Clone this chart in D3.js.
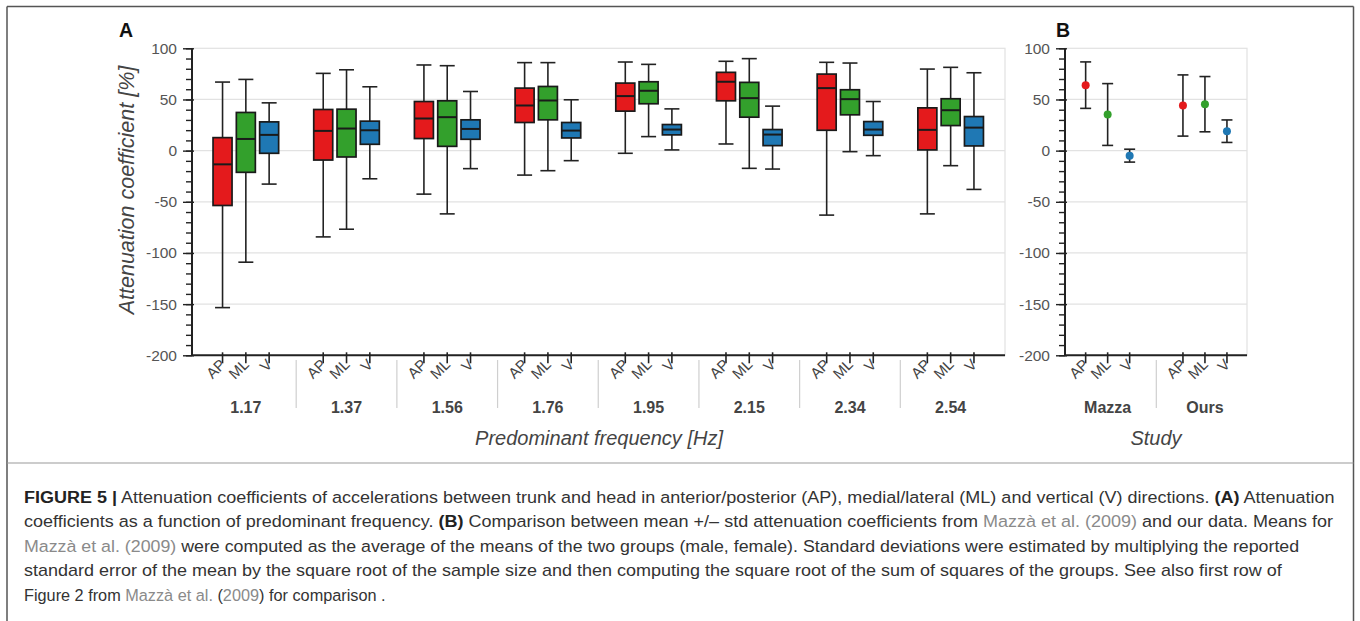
<!DOCTYPE html>
<html><head><meta charset="utf-8">
<script src="https://cdn.jsdelivr.net/npm/d3@7"></script>
<style>
html,body{margin:0;padding:0;background:#fff;}
svg{display:block;font-family:Arial,"Liberation Sans",sans-serif;}
</style></head>
<body>
<svg id="chart" width="1360" height="621"></svg>
<script>
// ---------- DATA ----------
const freqs = ["1.17","1.37","1.56","1.76","1.95","2.15","2.34","2.54"];
const dirs = ["AP","ML","V"];
const yTicksMajor = [100,50,0,-50,-100,-150,-200];

const apMin = [-153.4,-84.3,-42.5,-23.9,-2.6,6.5,-63,-61.8];
const apQ1  = [-53.6,-9.2,11.8,27.5,38.6,48.7,19.9,0.7];
const apMed = [-13.4,19.3,31.4,44.1,53.3,67.3,61.1,20.3];
const apQ3  = [12.7,40.2,48,61.1,66,76.5,74.8,41.8];
const apMax = [67,75.5,83.7,86,86.6,87.3,86.3,79.7];

const mlMin = [-109,-76.8,-61.8,-19.6,13.7,-17.3,-1,-14.7];
const mlQ1  = [-21.2,-6.2,4.2,30.1,45.8,32.7,35,24.5];
const mlMed = [11.4,21.6,32.7,49,58.5,51.3,50.3,39.5];
const mlQ3  = [37.3,40.5,48.7,62.7,67.3,66.7,59.5,50.7];
const mlMax = [69.6,79,83,86,84.3,89.9,85.6,81.4];

const vMin = [-32.7,-27.5,-17.6,-9.8,0.7,-18,-4.9,-37.9];
const vQ1  = [-2.6,6.2,11.1,12.4,15.4,4.9,15,4.6];
const vMed = [15.4,19.9,21.2,19.6,20.6,15.7,20.6,22.5];
const vQ3  = [28.1,28.8,30.1,27.5,25.5,20.6,28.4,33.3];
const vMax = [46.7,62.4,57.8,49.7,40.8,43.5,48,76.1];

const studies = ["Mazza","Ours"];
const mazzaMean = [64,35.3,-4.9];
const mazzaSD   = [22.7,30.2,6.3];
const oursMean  = [44.1,45.4,19];
const oursSD    = [29.9,27,11];

const colors = {AP:"#e41a1c", ML:"#33a02c", V:"#1f78b4"};

// ---------- BUILD ----------
const boxStats = {
  AP:{min:apMin,q1:apQ1,med:apMed,q3:apQ3,max:apMax},
  ML:{min:mlMin,q1:mlQ1,med:mlMed,q3:mlQ3,max:mlMax},
  V:{min:vMin,q1:vQ1,med:vMed,q3:vQ3,max:vMax}
};
const boxes = [];
freqs.forEach((f,i)=>dirs.forEach(d=>{
  const s=boxStats[d];
  boxes.push({f,d,min:s.min[i],q1:s.q1[i],med:s.med[i],q3:s.q3[i],max:s.max[i]});
}));
const points = [];
dirs.forEach((d,i)=>{
  points.push({s:"Mazza",d,mean:mazzaMean[i],sd:mazzaSD[i]});
  points.push({s:"Ours",d,mean:oursMean[i],sd:oursSD[i]});
});

const svg = d3.select("#chart");
const yTop=48.3, yBot=355.3;
const y = d3.scaleLinear().domain([-200,100]).range([yBot,yTop]);

// outer frame
svg.append("line").attr("x1",7).attr("x2",7).attr("y1",6.5).attr("y2",621).attr("stroke","#555").attr("stroke-width",1.5);
svg.append("line").attr("x1",1353.5).attr("x2",1353.5).attr("y1",6.5).attr("y2",621).attr("stroke","#555").attr("stroke-width",1.5);
svg.append("line").attr("x1",7).attr("x2",1353.5).attr("y1",6.5).attr("y2",6.5).attr("stroke","#555").attr("stroke-width",1.5);
svg.append("line").attr("x1",7).attr("x2",1353.5).attr("y1",463).attr("y2",463).attr("stroke","#999").attr("stroke-width",1);

function panel(opts){
  const g = svg.append("g");
  const {ax0,ax1,groups,xg,xi,label,labelX,title,titleX} = opts;
  g.append("rect").attr("x",ax0).attr("y",yTop).attr("width",ax1-ax0).attr("height",yBot-yTop)
    .attr("fill","none").attr("stroke","#e2e2e2").attr("stroke-width",1.2);
  g.selectAll(".grid").data(yTicksMajor.filter(v=>v>-200&&v<100)).join("line")
    .attr("x1",ax0).attr("x2",ax1).attr("y1",d=>y(d)).attr("y2",d=>y(d))
    .attr("stroke","#e2e2e2").attr("stroke-width",1.2);
  const yaMinor = g.append("g").attr("transform",`translate(${ax0},0)`);
  yaMinor.call(d3.axisLeft(y).tickValues(d3.range(-200,101,10)).tickSize(6).tickFormat(""))
    .call(s=>s.select(".domain").remove())
    .call(s=>s.selectAll("line").attr("stroke","#222").attr("stroke-width",1.4));
  const ya = g.append("g").attr("transform",`translate(${ax0},0)`);
  ya.call(d3.axisLeft(y).tickValues(yTicksMajor).tickSize(9).tickPadding(6).tickFormat(d=>d))
    .call(s=>s.select(".domain").attr("stroke","#222").attr("stroke-width",2).attr("d",`M0,${yTop}V${yBot}`))
    .call(s=>s.selectAll(".tick line").attr("stroke","#222").attr("stroke-width",1.4).attr("x2",-9).attr("x1",2))
    .call(s=>s.selectAll("text").attr("fill","#555").attr("font-size","15.5px").attr("font-family","Arial, 'Liberation Sans', sans-serif"));
  g.append("line").attr("x1",ax0).attr("x2",ax1).attr("y1",yBot).attr("y2",yBot).attr("stroke","#222").attr("stroke-width",2);
  groups.forEach(gr=>{
    const c = xg(gr)+xg.bandwidth()/2;
    dirs.forEach(d=>{
      const x = c+xi(d);
      g.append("line").attr("x1",x).attr("x2",x).attr("y1",yBot-3).attr("y2",yBot+8).attr("stroke","#222").attr("stroke-width",1.6);
      g.append("text").attr("transform",`translate(${x+4},${yBot+10}) rotate(-45)`)
        .attr("text-anchor","end").attr("fill","#444").attr("font-size","15px").text(d);
    });
    g.append("text").attr("x",c).attr("y",413).attr("text-anchor","middle")
      .attr("font-weight","bold").attr("font-size","16px").attr("fill","#444").text(gr);
  });
  groups.slice(1).forEach(gr=>{
    const sx = xg(gr);
    g.append("line").attr("x1",sx).attr("x2",sx).attr("y1",360).attr("y2",408).attr("stroke","#cfcfcf").attr("stroke-width",1.2);
  });
  g.append("text").attr("x",titleX).attr("y",445).attr("text-anchor","middle").attr("font-style","italic")
    .attr("font-size","20px").attr("fill","#444").text(title);
  g.append("text").attr("x",labelX).attr("y",37).attr("font-weight","bold").attr("font-size","19.5px").attr("fill","#111").text(label);
  return g;
}

// Panel A
const xA = d3.scaleBand().domain(freqs).range([195.5,1001]);
const xiA = d3.scalePoint().domain(dirs).range([-23.3,23.3]);
const gA = panel({ax0:192,ax1:1005,groups:freqs,xg:xA,xi:xiA,label:"A",labelX:119,title:"Predominant frequency [Hz]",titleX:599});
svg.append("text").attr("transform","translate(134,190) rotate(-90)").attr("text-anchor","middle")
  .attr("font-style","italic").attr("font-size","21.5px").attr("fill","#444").text("Attenuation coefficient [%]");

const bw=19, cw=15;
const bg = gA.selectAll(".box").data(boxes).join("g").attr("transform",d=>`translate(${xA(d.f)+xA.bandwidth()/2+xiA(d.d)},0)`);
bg.append("line").attr("y1",d=>y(d.min)).attr("y2",d=>y(d.max)).attr("stroke","#222").attr("stroke-width",1.6);
bg.append("line").attr("x1",-cw/2).attr("x2",cw/2).attr("y1",d=>y(d.min)).attr("y2",d=>y(d.min)).attr("stroke","#222").attr("stroke-width",1.6);
bg.append("line").attr("x1",-cw/2).attr("x2",cw/2).attr("y1",d=>y(d.max)).attr("y2",d=>y(d.max)).attr("stroke","#222").attr("stroke-width",1.6);
bg.append("rect").attr("x",-bw/2).attr("width",bw).attr("y",d=>y(d.q3)).attr("height",d=>y(d.q1)-y(d.q3))
  .attr("fill",d=>colors[d.d]).attr("stroke","#1a1a1a").attr("stroke-width",1.7);
bg.append("line").attr("x1",-bw/2).attr("x2",bw/2).attr("y1",d=>y(d.med)).attr("y2",d=>y(d.med)).attr("stroke","#1a1a1a").attr("stroke-width",2);

// Panel B
const xB = d3.scaleBand().domain(studies).range([1059,1253.6]);
const xiB = d3.scalePoint().domain(dirs).range([-22,22]);
const gB = panel({ax0:1065,ax1:1247,groups:studies,xg:xB,xi:xiB,label:"B",labelX:1056,title:"Study",titleX:1156});
const pg = gB.selectAll(".pt").data(points).join("g").attr("transform",d=>`translate(${xB(d.s)+xB.bandwidth()/2+xiB(d.d)},0)`);
pg.append("line").attr("y1",d=>y(d.mean-d.sd)).attr("y2",d=>y(d.mean+d.sd)).attr("stroke","#222").attr("stroke-width",1.6);
pg.append("line").attr("x1",-5.5).attr("x2",5.5).attr("y1",d=>y(d.mean-d.sd)).attr("y2",d=>y(d.mean-d.sd)).attr("stroke","#222").attr("stroke-width",1.6);
pg.append("line").attr("x1",-5.5).attr("x2",5.5).attr("y1",d=>y(d.mean+d.sd)).attr("y2",d=>y(d.mean+d.sd)).attr("stroke","#222").attr("stroke-width",1.6);
pg.append("circle").attr("r",4).attr("cy",d=>y(d.mean)).attr("fill",d=>colors[d.d]);

// ---------- CAPTION ----------
const link = "#8a8a8a";
const captionLines = [
  {y:503,w:1312,parts:[["FIGURE 5 |","b"],[" Attenuation coefficients of accelerations between trunk and head in anterior/posterior (AP), medial/lateral (ML) and vertical (V) directions. "],["(A)","b"],[" Attenuation"]]},
  {y:527,w:1310,parts:[["coefficients as a function of predominant frequency. "],["(B)","b"],[" Comparison between mean +/– std attenuation coefficients from "],["Mazzà et al. (2009)","l"],[" and our data. Means for"]]},
  {y:552,w:1276,parts:[["Mazzà et al. (2009)","l"],[" were computed as the average of the means of the two groups (male, female). Standard deviations were estimated by multiplying the reported"]]},
  {y:576,w:1258,parts:[["standard error of the mean by the square root of the sample size and then computing the square root of the sum of squares of the groups. See also first row of"]]},
  {y:601,w:362,parts:[["Figure 2 from "],["Mazzà et al.","l"],[" ("],["2009","l"],[") for comparison ."]]}
];
captionLines.forEach(L=>{
  const t = svg.append("text").attr("x",0).attr("y",0).attr("font-size","17px")
    .attr("font-family","'Liberation Sans Narrow','Arial Narrow',Arial,sans-serif")
    .attr("fill","#333");
  L.parts.forEach(p=>{
    const ts = t.append("tspan").text(p[0]);
    if(p[1]==="b"){ts.attr("font-weight","bold").attr("fill","#222");}
    if(p[1]==="l"){ts.attr("fill",link);}
  });
  const nat = t.node().getComputedTextLength();
  t.attr("transform",`translate(24,${L.y}) scale(${L.w/nat},1)`);
});
</script>
</body></html>
